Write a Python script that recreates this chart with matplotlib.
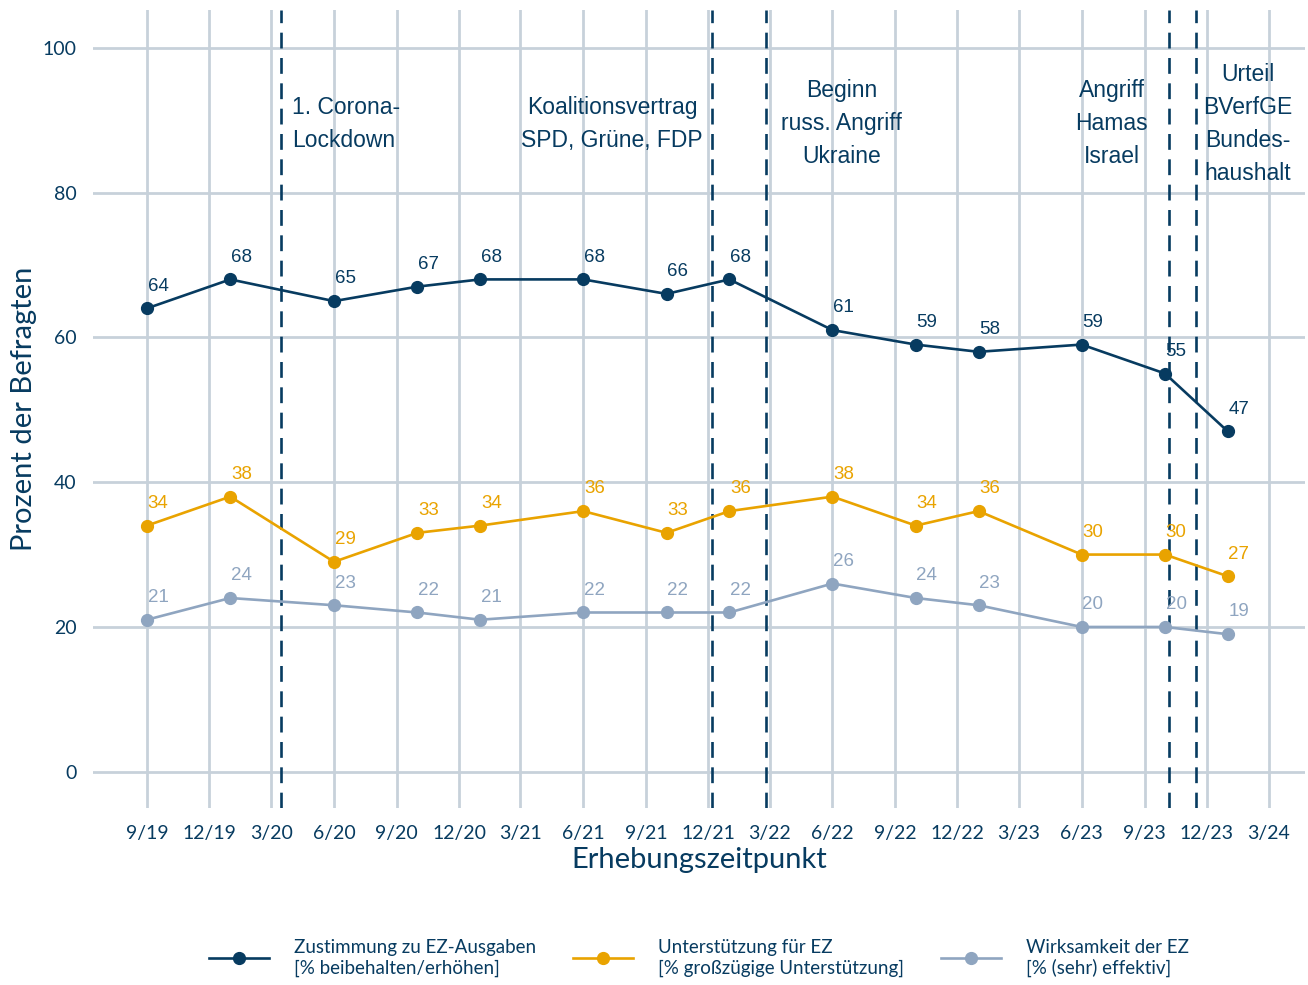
import pandas as pd
import matplotlib
matplotlib.use("Agg")
import matplotlib.pyplot as plt

# survey dates and values
dates = ["2019-09-01", "2020-01-01", "2020-06-01", "2020-10-01", "2021-01-01",
         "2021-06-01", "2021-10-01", "2022-01-01", "2022-06-01", "2022-10-01",
         "2023-01-01", "2023-06-01", "2023-10-01", "2024-01-01"]
zustimmung = [64, 68, 65, 67, 68, 68, 66, 68, 61, 59, 58, 59, 55, 47]
unterstuetzung = [34, 38, 29, 33, 34, 36, 33, 36, 38, 34, 36, 30, 30, 27]
wirksamkeit = [21, 24, 23, 22, 21, 22, 22, 22, 26, 24, 23, 20, 20, 19]

series_names = ["Zustimmung zu EZ-Ausgaben\n[% beibehalten/erhöhen]",
                "Unterstützung für EZ\n[% großzügige Unterstützung]",
                "Wirksamkeit der EZ\n[% (sehr) effektiv]"]

# events (dashed lines)
event_dates = ["2020-03-16", "2021-12-07", "2022-02-24", "2023-10-07", "2023-11-15"]
# event labels: text, anchor date, alignment
event_labels = [("1. Corona-\nLockdown", "2020-04-01", "left"),
                ("Koalitionsvertrag\nSPD, Grüne, FDP", "2021-07-13", "center"),
                ("Beginn\nruss. Angriff\nUkraine", "2022-06-14", "center"),
                ("Angriff\nHamas\nIsrael", "2023-07-15", "center"),
                ("Urteil\nBVerfGE\nBundes-\nhaushalt", "2024-01-30", "center")]

navy = "#073B60"
orange = "#E9A300"
grey = "#8FA5C0"
grid_col = "#C7D1DA"

x = pd.to_datetime(dates)

fig = plt.figure(figsize=(13.08, 9.85), dpi=100)
ax = fig.add_axes([0.0711, 0.1797, 0.9266, 0.8101])

ax.set_xlim(pd.Timestamp("2019-06-14"), pd.Timestamp("2024-04-23"))
ax.set_ylim(-5, 105.2)

qticks = pd.date_range("2019-09-01", "2024-03-01", freq="3MS")
ax.set_xticks(qticks)
ax.set_xticklabels([f"{d.month}/{str(d.year)[2:]}" for d in qticks])
ax.set_yticks([0, 20, 40, 60, 80, 100])

ax.grid(True, color=grid_col, lw=2.0, zorder=0)
ax.set_axisbelow(True)
for s in ax.spines.values():
    s.set_visible(False)
ax.tick_params(length=0, colors=navy, labelsize=14)
ax.tick_params(axis="x", pad=12)
ax.tick_params(axis="y", pad=12)
for lab in ax.get_xticklabels() + ax.get_yticklabels():
    lab.set_fontfamily("Lato")

for d in event_dates:
    ax.axvline(pd.Timestamp(d), color=navy, lw=1.9, ls=(0, (6, 3.6)), zorder=1)

for txt, d, ha in event_labels:
    ax.text(pd.Timestamp(d), 89.5, txt, ha=ha, va="center", color=navy,
            fontsize=16.5, family="Liberation Sans", linespacing=1.55, zorder=3)

handles = []
for vals, col, name in [(zustimmung, navy, series_names[0]),
                        (unterstuetzung, orange, series_names[1]),
                        (wirksamkeit, grey, series_names[2])]:
    ln, = ax.plot(x, vals, color=col, lw=1.9, marker="o", ms=8.5, zorder=4,
                  label=name)
    handles.append(ln)
    for xi, v in zip(x, vals):
        ax.annotate(str(v), (xi, v), xytext=(8, 16), textcoords="offset points",
                    ha="center", va="center", color=col, fontsize=13.5,
                    family="Liberation Sans", zorder=5)

ax.set_xlabel("Erhebungszeitpunkt", color=navy, fontsize=21, family="Lato",
              labelpad=4)
ax.set_ylabel("Prozent der Befragten", color=navy, fontsize=21, family="Lato",
              labelpad=4)

leg = ax.legend(handles=handles, loc="center", bbox_to_anchor=(0.5, -0.188),
                ncol=3, frameon=False, handlelength=3.2, columnspacing=2.0,
                handletextpad=1.3, prop={"family": "Lato", "size": 13.5})
for t in leg.get_texts():
    t.set_color(navy)

fig.savefig("out.png", dpi=100)
